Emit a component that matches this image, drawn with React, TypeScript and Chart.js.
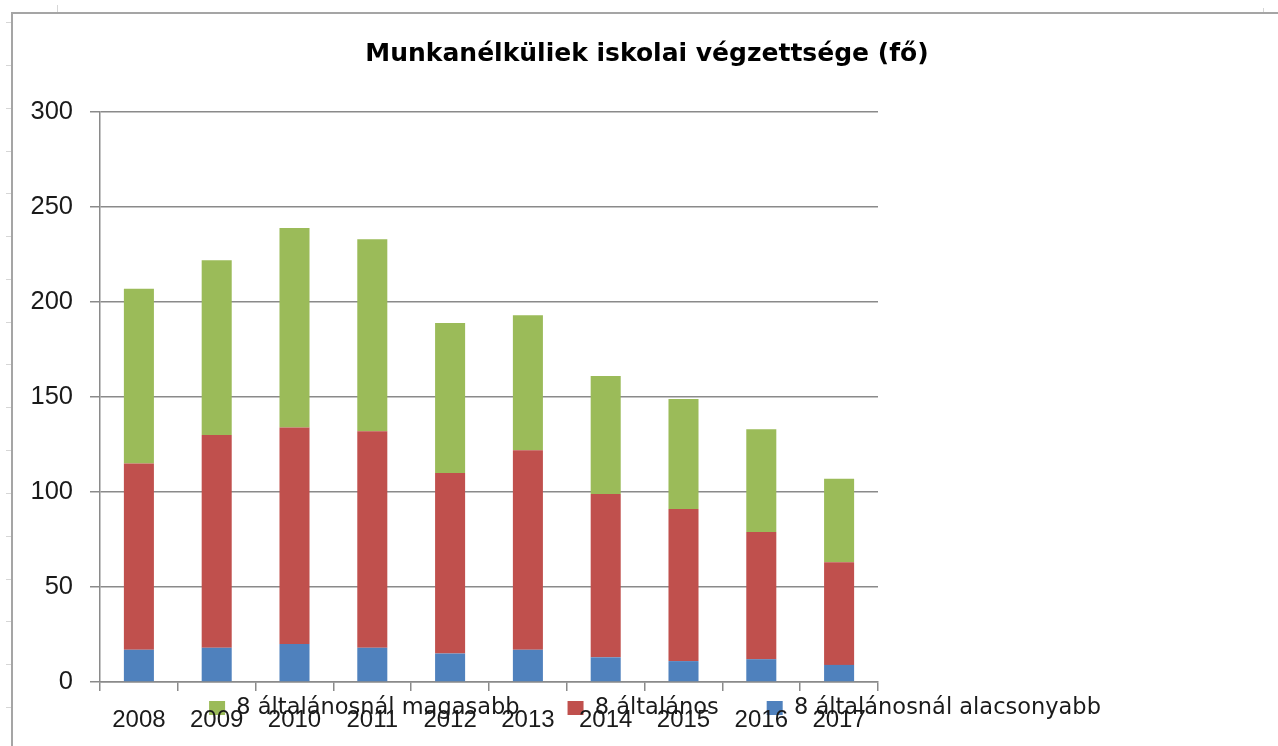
import React, { useEffect, useRef } from "react";
import { Chart, registerables } from "chart.js";

Chart.register(...registerables);

const chartTitle = "Munkanélküliek iskolai végzettsége (fő)";
const categories = ["2008", "2009", "2010", "2011", "2012", "2013", "2014", "2015", "2016", "2017"];
const seriesNames = ["8 általánosnál alacsonyabb", "8 általános", "8 általánosnál magasabb"];
const belowEight = [17, 18, 20, 18, 15, 17, 13, 11, 12, 9];
const eightGrade = [98, 112, 114, 114, 95, 105, 86, 80, 67, 54];
const aboveEight = [92, 92, 105, 101, 79, 71, 62, 58, 54, 44];
const yTicks = [0, 50, 100, 150, 200, 250, 300];
const seriesColors = ["#4F81BD", "#C0504D", "#9BBB59"];

const rowTickYs = [22, 65, 108, 151, 193, 236, 279, 322, 364, 407, 450, 493, 536, 579, 621, 664, 707];

const LEGEND_PAD = 48;

const legendMover = {
  id: "legendMover",
  afterLayout(chart: any) {
    const lg = chart.legend;
    if (!lg) return;
    lg.top = chart.chartArea.bottom + 14.75 - LEGEND_PAD;
    lg.height = 140;
    lg.bottom = lg.top + lg.height;
    lg.left += 8;
    lg.right += 8;
  },
};

export default function App() {
  const ref = useRef<HTMLCanvasElement | null>(null);

  useEffect(() => {
    if (!ref.current) return;
    const grid = "#8a8a8a";
    const chart = new Chart(ref.current, {
      type: "bar",
      data: {
        labels: categories,
        datasets: [
          { label: seriesNames[0], data: belowEight, backgroundColor: seriesColors[0] },
          { label: seriesNames[1], data: eightGrade, backgroundColor: seriesColors[1] },
          { label: seriesNames[2], data: aboveEight, backgroundColor: seriesColors[2] },
        ],
      },
      plugins: [legendMover],
      options: {
        responsive: false,
        animation: false,
        devicePixelRatio: 1,
        datasets: {
          bar: { barPercentage: 0.386, categoryPercentage: 1 },
        },
        layout: { padding: 0 },
        plugins: {
          title: {
            display: true,
            text: chartTitle,
            color: "#000",
            font: { family: "'DejaVu Sans'", size: 25, weight: "bold" },
            padding: { top: 25, bottom: 43 },
          },
          legend: {
            display: true,
            position: "bottom",
            reverse: true,
            maxHeight: 1,
            labels: {
              boxWidth: 16,
              boxHeight: 14,
              padding: LEGEND_PAD,
              color: "#1a1a1a",
              font: { family: "'DejaVu Sans'", size: 22.5 },
            },
          },
          tooltip: { enabled: false },
        },
        scales: {
          x: {
            stacked: true,
            grid: {
              display: true,
              drawOnChartArea: false,
              drawTicks: true,
              tickLength: 9,
              color: grid,
              lineWidth: 1.5,
            },
            border: { display: true, color: grid, width: 1.5 },
            ticks: {
              color: "#1a1a1a",
              padding: 15,
              maxRotation: 0,
              autoSkip: false,
              font: { family: "'Liberation Sans'", size: 24 },
            },
            afterFit: (s: any) => {
              s.height = 63;
            },
          },
          y: {
            stacked: true,
            min: yTicks[0],
            max: yTicks[yTicks.length - 1],
            grid: {
              display: true,
              drawTicks: true,
              tickLength: 10,
              color: grid,
              lineWidth: 1.5,
            },
            border: { display: true, color: grid, width: 1.5 },
            ticks: {
              stepSize: yTicks[1] - yTicks[0],
              color: "#1a1a1a",
              padding: 17,
              font: { family: "'Liberation Sans'", size: 25.5 },
            },
            afterFit: (s: any) => {
              s.width = 87;
            },
          },
          rightSpace: {
            type: "linear",
            position: "right",
            display: true,
            grid: { display: false },
            border: { display: false },
            ticks: { display: false },
            afterFit: (s: any) => {
              s.width = 403;
            },
          },
        },
      } as any,
    });
    return () => chart.destroy();
  }, []);

  return (
    <div
      style={{
        position: "fixed",
        left: 0,
        top: 0,
        width: 1278,
        height: 746,
        overflow: "hidden",
        background: "#fff",
      }}
    >
      {rowTickYs.map((y) => (
        <div
          key={y}
          style={{ position: "absolute", left: 6, top: y, width: 5, height: 1, background: "#d6d6d6" }}
        />
      ))}
      <div style={{ position: "absolute", left: 57, top: 5, width: 1, height: 7, background: "#d6d6d6" }} />
      <div style={{ position: "absolute", left: 1263, top: 8, width: 1, height: 4, background: "#d6d6d6" }} />
      <div
        style={{
          position: "absolute",
          left: 11,
          top: 12,
          width: 1400,
          height: 900,
          borderLeft: "2px solid #a5a5a5",
          borderTop: "2px solid #a5a5a5",
          background: "#fff",
        }}
      />
      <canvas
        ref={ref}
        width={1268}
        height={732}
        style={{ position: "absolute", left: 13, top: 14, width: 1268, height: 732, display: "block" }}
      />
    </div>
  );
}
